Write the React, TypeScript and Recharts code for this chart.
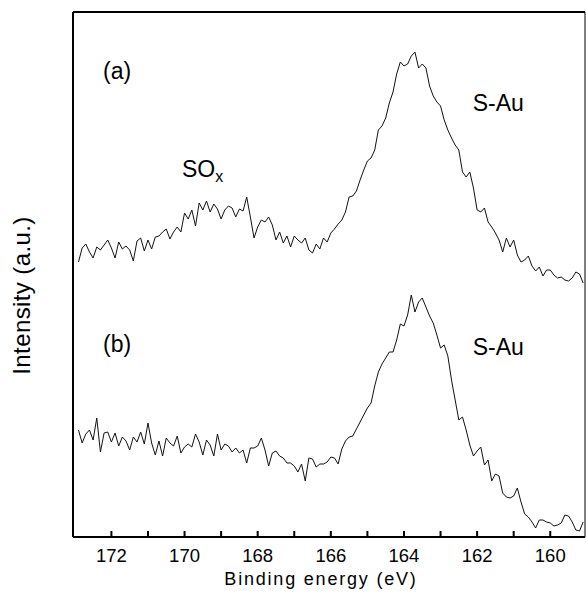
import React from 'react';
import { LineChart, Line, XAxis, YAxis, ReferenceDot, ReferenceLine } from 'recharts';

const FONT = '"Liberation Sans", Arial, Helvetica, sans-serif';

// Binding energy (eV), high to low
const energy = [
  172.9, 172.8, 172.7, 172.6, 172.5, 172.4, 172.3, 172.2, 172.1, 172.0,
  171.9, 171.8, 171.7, 171.6, 171.5, 171.4, 171.3, 171.2, 171.1, 171.0,
  170.9, 170.8, 170.7, 170.6, 170.5, 170.4, 170.3, 170.2, 170.1, 170.0,
  169.9, 169.8, 169.7, 169.6, 169.5, 169.4, 169.3, 169.2, 169.1, 169.0,
  168.9, 168.8, 168.7, 168.6, 168.5, 168.4, 168.3, 168.2, 168.1, 168.0,
  167.9, 167.8, 167.7, 167.6, 167.5, 167.4, 167.3, 167.2, 167.1, 167.0,
  166.9, 166.8, 166.7, 166.6, 166.5, 166.4, 166.3, 166.2, 166.1, 166.0,
  165.9, 165.8, 165.7, 165.6, 165.5, 165.4, 165.3, 165.2, 165.1, 165.0,
  164.9, 164.8, 164.7, 164.6, 164.5, 164.4, 164.3, 164.2, 164.1, 164.0,
  163.9, 163.8, 163.7, 163.6, 163.5, 163.4, 163.3, 163.2, 163.1, 163.0,
  162.9, 162.8, 162.7, 162.6, 162.5, 162.4, 162.3, 162.2, 162.1, 162.0,
  161.9, 161.8, 161.7, 161.6, 161.5, 161.4, 161.3, 161.2, 161.1, 161.0,
  160.9, 160.8, 160.7, 160.6, 160.5, 160.4, 160.3, 160.2, 160.1, 160.0,
  159.9, 159.8, 159.7, 159.6, 159.5, 159.4, 159.3, 159.2, 159.1,
];

// Spectrum (a): intensity (a.u.)
const spectrumA = [
  275, 289, 293, 285, 279, 290, 287, 292, 297, 289,
  279, 295, 288, 291, 287, 276, 296, 299, 286, 297,
  288, 300, 301, 305, 308, 298, 305, 310, 305, 324,
  318, 327, 311, 334, 327, 336, 325, 333, 328, 318,
  327, 331, 329, 320, 328, 326, 340, 320, 299, 310,
  317, 315, 320, 312, 297, 305, 294, 301, 290, 301,
  297, 294, 299, 287, 284, 293, 288, 299, 295, 304,
  308, 313, 317, 325, 340, 341, 346, 357, 367, 376,
  379, 387, 407, 411, 419, 434, 445, 463, 475, 471,
  473, 481, 485, 469, 473, 469, 451, 441, 435, 431,
  417, 407, 399, 392, 387, 365, 360, 365, 349, 327,
  325, 329, 315, 310, 304, 297, 285, 299, 290, 297,
  282, 275, 277, 281, 271, 266, 270, 261, 267, 267,
  262, 259, 260, 257, 256, 259, 265, 263, 254,
];

// Spectrum (b): intensity (a.u.)
const spectrumB = [
  107, 94, 103, 107, 97, 119, 85, 104, 105, 95,
  104, 91, 100, 96, 87, 100, 95, 105, 93, 114,
  94, 82, 96, 81, 99, 94, 91, 101, 84, 90,
  93, 90, 103, 95, 82, 97, 92, 81, 103, 87,
  93, 91, 85, 89, 84, 87, 74, 89, 89, 91,
  99, 87, 71, 84, 86, 81, 79, 74, 74, 71,
  65, 73, 56, 79, 78, 70, 73, 73, 75, 80,
  79, 73, 88, 96, 100, 101, 108, 115, 122, 129,
  134, 151, 165, 173, 179, 185, 185, 197, 213, 211,
  222, 242, 225, 235, 239, 230, 221, 214, 202, 189,
  192, 181, 157, 137, 117, 120, 107, 92, 81, 86,
  90, 72, 77, 56, 63, 61, 44, 40, 39, 41,
  49, 35, 23, 20, 15, 9, 17, 17, 15, 14,
  11, 12, 14, 22, 21, 15, 7, 6, 15,
];

const xTicks = [172, 171, 170, 169, 168, 167, 166, 165, 164, 163, 162, 161, 160];
const labeledTicks = [172, 170, 168, 166, 164, 162, 160];
const xDomain = [159.05, 173.05];
const yDomain = [0, 525];
const tickMarkHeight = 6;

const annotations = [
  { text: '(a)', e: 172.23, v: 458 },
  { text: 'S-Au', e: 162.12, v: 426 },
  { text: '(b)', e: 172.23, v: 185 },
  { text: 'S-Au', e: 162.12, v: 182 },
];
const soxLabel = { e: 170.07, v: 360 };

const data = energy.map((e, i) => ({ e, a: spectrumA[i], b: spectrumB[i] }));

const Tick = (props: any) => {
  const { x, y, payload } = props;
  const show = labeledTicks.includes(payload.value);
  if (!show) return <g />;
  return (
    <text x={x} y={y + 25} textAnchor="middle" fontSize={18.5} fill="#000" fontFamily={FONT}>
      {payload.value}
    </text>
  );
};

const XLabel = (props: any) => {
  const vb = props.viewBox || { x: 73, y: 537, width: 512, height: 56 };
  return (
    <text
      x={vb.x + vb.width / 2 - 8}
      y={vb.y + 48}
      textAnchor="middle"
      fontSize={18}
      letterSpacing={1.8}
      fill="#000"
      fontFamily={FONT}
    >
      Binding energy (eV)
    </text>
  );
};

const YLabel = (props: any) => {
  const vb = props.viewBox || { x: 72, y: 12, width: 1, height: 525 };
  const cx = vb.x + vb.width - 43;
  const cy = vb.y + vb.height / 2 + 21;
  return (
    <text
      x={cx}
      y={cy}
      transform={`rotate(-90 ${cx} ${cy})`}
      textAnchor="middle"
      fontSize={24}
      letterSpacing={0.4}
      fill="#000"
      fontFamily={FONT}
    >
      Intensity (a.u.)
    </text>
  );
};

const AnnText = (props: any) => {
  const vb = props.viewBox || { x: 0, y: 0 };
  return (
    <text x={vb.x} y={vb.y} fontSize={23} fill="#000" fontFamily={FONT}>
      {props.text}
    </text>
  );
};

const SoxText = (props: any) => {
  const vb = props.viewBox || { x: 0, y: 0 };
  return (
    <text x={vb.x} y={vb.y} fontSize={23} fill="#000" fontFamily={FONT}>
      SO
      <tspan fontSize={16} dy={5}>x</tspan>
    </text>
  );
};

export default function App() {
  return (
    <div style={{ position: 'absolute', left: 0, top: 0, width: 586, height: 593, background: '#fff' }}>
      <LineChart
        width={586}
        height={593}
        data={data}
        margin={{ top: 11, right: 0, bottom: 0, left: 72 }}
      >
        <XAxis
          dataKey="e"
          type="number"
          domain={xDomain}
          reversed
          allowDataOverflow
          ticks={xTicks}
          interval={0}
          tickSize={0}
          tickMargin={0}
          tickLine={false}
          tick={<Tick />}
          height={56}
          axisLine={{ stroke: '#000', strokeWidth: 2 }}
          label={<XLabel />}
        />
        <XAxis
          xAxisId="top"
          orientation="top"
          dataKey="e"
          type="number"
          domain={xDomain}
          reversed
          allowDataOverflow
          height={1}
          tick={false}
          tickLine={false}
          axisLine={{ stroke: '#000', strokeWidth: 2 }}
        />
        <YAxis
          domain={yDomain}
          type="number"
          allowDataOverflow
          width={1}
          tick={false}
          tickLine={false}
          axisLine={{ stroke: '#000', strokeWidth: 2 }}
          label={<YLabel />}
        />
        <YAxis
          yAxisId="r"
          orientation="right"
          domain={yDomain}
          type="number"
          width={1}
          tick={false}
          tickLine={false}
          axisLine={{ stroke: '#000', strokeWidth: 1 }}
        />
        {xTicks.map((t) => (
          <ReferenceLine
            key={`tk${t}`}
            segment={[{ x: t, y: 0 }, { x: t, y: tickMarkHeight }]}
            stroke="#000"
            strokeWidth={2}
            ifOverflow="visible"
          />
        ))}
        <Line
          dataKey="a"
          type="linear"
          stroke="#111"
          strokeWidth={1}
          dot={false}
          isAnimationActive={false}
        />
        <Line
          dataKey="b"
          type="linear"
          stroke="#111"
          strokeWidth={1}
          dot={false}
          isAnimationActive={false}
        />
        {annotations.map((a, i) => (
          <ReferenceDot
            key={i}
            x={a.e}
            y={a.v}
            r={0}
            fill="none"
            stroke="none"
            label={<AnnText text={a.text} />}
          />
        ))}
        <ReferenceDot
          x={soxLabel.e}
          y={soxLabel.v}
          r={0}
          fill="none"
          stroke="none"
          label={<SoxText />}
        />
      </LineChart>
    </div>
  );
}
